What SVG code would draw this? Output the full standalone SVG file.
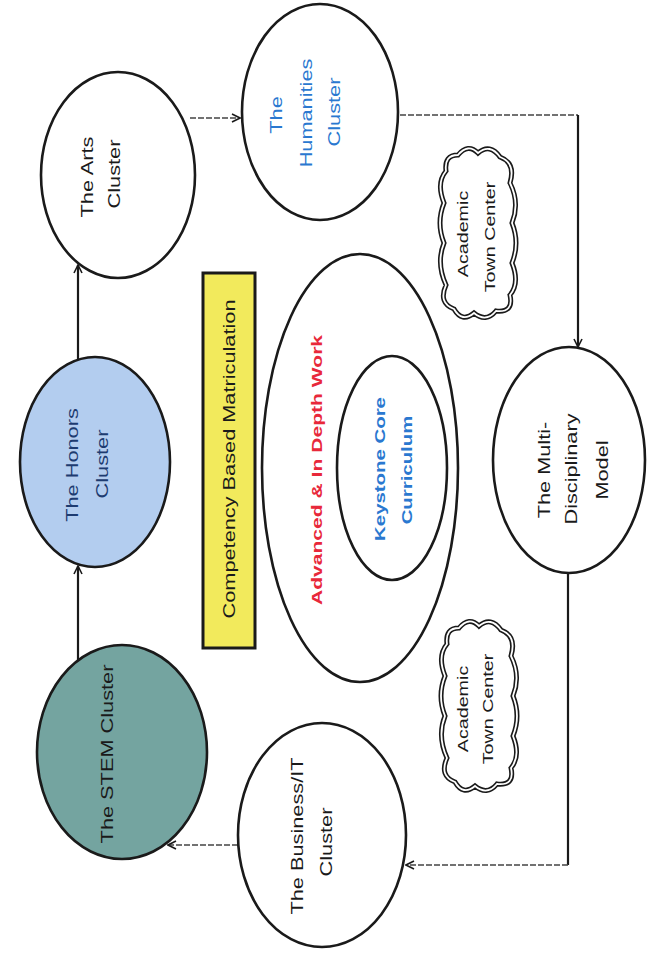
<svg xmlns="http://www.w3.org/2000/svg" width="647" height="958" viewBox="0 0 647 958">
<defs>
<style>
.node{stroke:#1a1a1a;stroke-width:2.6;}
.t{font-family:"Liberation Sans",Arial,sans-serif;font-size:16px;text-anchor:middle;dominant-baseline:central;fill:#1a1a1a;}
.b{font-weight:bold;}
.solid{fill:none;stroke:#1a1a1a;stroke-width:2.2;}
.dash{fill:none;stroke:#444;stroke-width:1.6;stroke-dasharray:6 2;}
.cloudo{fill:#fff;stroke:#1a1a1a;stroke-width:5;}
.cloudi{fill:none;stroke:#fff;stroke-width:1.8;}
</style>
<marker id="arr" viewBox="0 0 10 10" refX="9" refY="5" markerWidth="10" markerHeight="10" markerUnits="userSpaceOnUse" orient="auto">
<path d="M1,1 L9,5 L1,9" fill="none" stroke="#1a1a1a" stroke-width="1.6"/>
</marker>
<path id="cloud" d="M-20,-78 Q-10,-90 0,-80 Q12,-90 22,-76 Q38,-70 32,-50 Q42,-30 34,-10 Q42,10 34,30 Q42,50 32,62 Q36,80 18,78 Q8,90 -4,80 Q-16,90 -24,76 Q-40,70 -32,52 Q-42,30 -34,10 Q-42,-10 -34,-30 Q-42,-50 -32,-62 Q-34,-78 -20,-78 Z"/>
</defs>
<rect width="647" height="958" fill="#fff"/>

<g id="connectors">
<path class="solid" d="M78,660 L78,566" marker-end="url(#arr)"/>
<path class="solid" d="M78,360 L78,265" marker-end="url(#arr)"/>
<path class="dash" d="M190,118 L240,118" marker-end="url(#arr)"/>
<path class="dash" d="M400,115 L578,115"/>
<path class="solid" d="M578,115 L578,347" marker-end="url(#arr)"/>
<path class="solid" d="M568,573 L568,865"/>
<path class="dash" d="M568,865 L406,865" marker-end="url(#arr)"/>
<path class="dash" d="M238,845 L168,845" marker-end="url(#arr)"/>
</g>

<g id="stem">
<ellipse class="node" cx="122" cy="752" rx="85" ry="107" fill="#74a4a0"/>
<text class="t" transform="translate(108,754) rotate(-90) scale(1.36,1)" fill="#1e2a2a">The STEM Cluster</text>
</g>

<g id="honors">
<ellipse class="node" cx="95" cy="462" rx="75" ry="105" fill="#b3cdef"/>
<text class="t" transform="translate(73,465) rotate(-90) scale(1.36,1)" style="fill:#1d3b70">The Honors</text>
<text class="t" transform="translate(103,464) rotate(-90) scale(1.36,1)" style="fill:#1d3b70">Cluster</text>
</g>

<g id="arts">
<ellipse class="node" cx="118" cy="175" rx="77" ry="103" fill="#fff"/>
<text class="t" transform="translate(88,177) rotate(-90) scale(1.36,1)">The Arts</text>
<text class="t" transform="translate(115,174) rotate(-90) scale(1.36,1)">Cluster</text>
</g>

<g id="humanities">
<ellipse class="node" cx="320" cy="112" rx="78" ry="108" fill="#fff"/>
<text class="t" transform="translate(277,115) rotate(-90) scale(1.36,1)" style="fill:#2a78d0">The</text>
<text class="t" transform="translate(307,113) rotate(-90) scale(1.36,1)" style="fill:#2a78d0">Humanities</text>
<text class="t" transform="translate(335,112) rotate(-90) scale(1.36,1)" style="fill:#2a78d0">Cluster</text>
</g>

<g id="multidisciplinary">
<ellipse class="node" cx="569" cy="460" rx="76" ry="113" fill="#fff"/>
<text class="t" transform="translate(545,470) rotate(-90) scale(1.36,1)">The Multi-</text>
<text class="t" transform="translate(572,469) rotate(-90) scale(1.36,1)">Disciplinary</text>
<text class="t" transform="translate(603,470) rotate(-90) scale(1.36,1)">Model</text>
</g>

<g id="business">
<ellipse class="node" cx="322" cy="835" rx="84" ry="112" fill="#fff"/>
<text class="t" transform="translate(298,836) rotate(-90) scale(1.36,1)">The Business/IT</text>
<text class="t" transform="translate(327,842) rotate(-90) scale(1.36,1)">Cluster</text>
</g>

<g id="competency">
<rect x="203" y="273" width="52" height="375" fill="#f2ea5c" stroke="#1a1a1a" stroke-width="3"/>
<text class="t" transform="translate(230,459) rotate(-90) scale(1.36,1)" style="font-size:16px">Competency Based Matriculation</text>
</g>

<g id="advanced">
<ellipse class="node" cx="360" cy="468" rx="98" ry="214" fill="none"/>
<text class="t b" transform="translate(317,470) rotate(-90) scale(1.36,1)" style="fill:#e8283a;font-size:15.5px">Advanced &amp; In Depth Work</text>
</g>

<g id="keystone">
<ellipse class="node" cx="392" cy="468" rx="55" ry="112" fill="none"/>
<text class="t b" transform="translate(380,469) rotate(-90) scale(1.36,1)" style="fill:#2a78d0;font-size:15px">Keystone Core</text>
<text class="t b" transform="translate(407,470) rotate(-90) scale(1.36,1)" style="fill:#2a78d0;font-size:15px">Curriculum</text>
</g>

<g id="cloud-upper">
<use href="#cloud" class="cloudo" transform="translate(478,233)"/>
<use href="#cloud" class="cloudi" transform="translate(478,233)"/>
<text class="t" transform="translate(463,234) rotate(-90) scale(1.36,1)" style="font-size:14.5px">Academic</text>
<text class="t" transform="translate(490,237) rotate(-90) scale(1.36,1)" style="font-size:14.5px">Town Center</text>
</g>

<g id="cloud-lower">
<use href="#cloud" class="cloudo" transform="translate(479,706)"/>
<use href="#cloud" class="cloudi" transform="translate(479,706)"/>
<text class="t" transform="translate(463,709) rotate(-90) scale(1.36,1)" style="font-size:14.5px">Academic</text>
<text class="t" transform="translate(488,709) rotate(-90) scale(1.36,1)" style="font-size:14.5px">Town Center</text>
</g>
</svg>
